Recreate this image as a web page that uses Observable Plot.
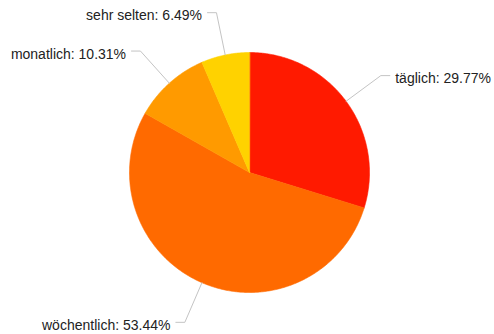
<!DOCTYPE html>
<html><head><meta charset="utf-8">
<script src="https://cdn.jsdelivr.net/npm/d3@7"></script>
<script src="https://cdn.jsdelivr.net/npm/@observablehq/plot@0.6"></script>
<style>body{margin:0;background:#fff}</style>
</head><body><div id="chart"></div>
<script>
const categories = ["täglich", "wöchentlich", "monatlich", "sehr selten"];
const values = [29.77, 53.44, 10.31, 6.49];
const colors = ["#ff1a00", "#ff6a00", "#ff9a00", "#ffd200"];

const W = 494, H = 334, R = 120, cx = 249, cy = 172;

const data = categories.map((c, i) => ({key: c, value: values[i], label: `${c}: ${values[i].toFixed(2)}%`}));
const arcs = d3.pie().sort(null).value(d => d.value)(data);

const slicePts = [];
for (const a of arcs) {
  slicePts.push({key: a.data.key, x: 0, y: 0});
  const n = Math.max(2, Math.ceil((a.endAngle - a.startAngle) / 0.01));
  for (let i = 0; i <= n; i++) {
    const t = a.startAngle + (a.endAngle - a.startAngle) * i / n;
    slicePts.push({key: a.data.key, x: Math.sin(t), y: Math.cos(t)});
  }
}

const leaderPts = [];
const labelPts = [];
for (const a of arcs) {
  const m = (a.startAngle + a.endAngle) / 2;
  const side = Math.sin(m) >= 0 ? 1 : -1;
  const ex = 1.36 * Math.sin(m), ey = 1.36 * Math.cos(m);
  leaderPts.push({key: a.data.key, x: Math.sin(m), y: Math.cos(m)});
  leaderPts.push({key: a.data.key, x: ex, y: ey});
  leaderPts.push({key: a.data.key, x: ex + side * 0.075, y: ey});
  labelPts.push({key: a.data.key, side, x: ex + side * 0.12, y: ey, text: a.data.label});
}

const font = "'Liberation Sans', Arial, sans-serif";
const chart = Plot.plot({
  width: W, height: H,
  margin: 0,
  x: {domain: [-cx / R, (W - cx) / R], axis: null},
  y: {domain: [-(H - cy) / R, cy / R], axis: null},
  color: {domain: categories, range: colors},
  style: {fontFamily: font, background: "#fff"},
  marks: [
    Plot.line(slicePts, {x: "x", y: "y", z: "key", fill: "key", stroke: "key", strokeWidth: 0.6, curve: "linear-closed"}),
    Plot.line(leaderPts, {x: "x", y: "y", z: "key", stroke: "#c4c4c4", strokeWidth: 1}),
    Plot.text(labelPts, {filter: d => d.side > 0, x: "x", y: "y", text: "text", textAnchor: "start", dy: 3, fontSize: 14, fill: "#222", fontFamily: font}),
    Plot.text(labelPts, {filter: d => d.side < 0, x: "x", y: "y", text: "text", textAnchor: "end", dy: 3, fontSize: 14, fill: "#222", fontFamily: font})
  ]
});
document.getElementById("chart").appendChild(chart);
</script>
</body></html>
